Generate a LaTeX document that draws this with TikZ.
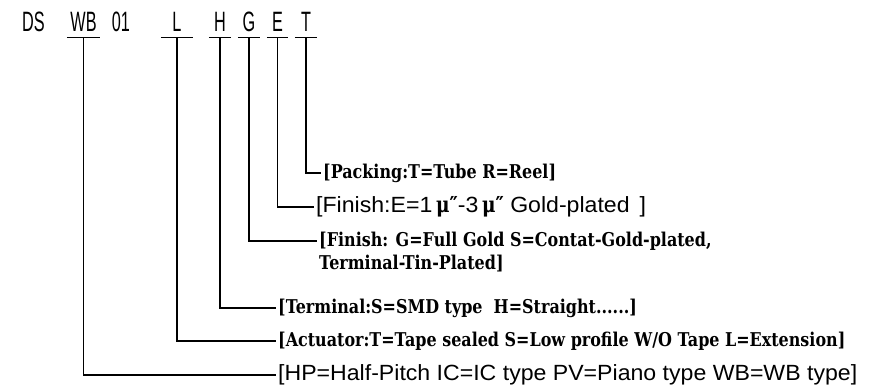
\documentclass[tikz,border=0pt]{standalone}
\usepackage{fontspec}
\usepackage{tikz}
\usetikzlibrary{positioning}
\newfontfamily\codefont[FakeStretch=0.58]{Liberation Sans}
\newfontfamily\thinfont[FakeStretch=1.05]{Liberation Sans}
\newfontfamily\heavyfont[FakeStretch=0.84]{DejaVu Serif}
\tikzset{
  codebox/.style={font=\codefont\fontsize{28}{32}\selectfont, inner sep=0pt, text depth=5pt, anchor=base},
  descthin/.style={font=\thinfont\fontsize{22}{26}\selectfont, anchor=west, inner xsep=2pt, inner ysep=0pt},
  descbold/.style={font=\heavyfont\bfseries\fontsize{19}{23}\selectfont, anchor=west, inner xsep=2pt, inner ysep=0pt},
  leader/.style={line width=1.1pt},
}
\begin{document}
\begin{tikzpicture}[x=1pt, y=-1pt]
\useasboundingbox (0,0) rectangle (877,390);
% part number
\node[codebox] (ds) at (33.5,32) {DS};
\node[codebox, minimum width=33pt] (wb) at (83.5,32) {WB};
\node[codebox] (num) at (121,32) {01};
\node[codebox, minimum width=32pt] (fl) at (177,32) {L};
\node[codebox, minimum width=22pt] (fh) at (220,32) {H};
\node[codebox, minimum width=22pt] (fg) at (249,32) {G};
\node[codebox, minimum width=21pt] (fe) at (277.5,32) {E};
\node[codebox, minimum width=22pt] (ft) at (306,32) {T};
% descriptions
\node[descbold] (pack) at (321,173) {[Packing:T=Tube R=Reel]};
\node[descthin] (fine) at (314,207) {[Finish:E=1\,{\heavyfont\bfseries μ″}-3\,{\heavyfont\bfseries μ″} Gold-plated \,]};
\node[descbold] (fing) at (317,241) {[Finish: G=Full Gold S=Contat-Gold-plated,};
\node[descbold] at (317,264) {Terminal-Tin-Plated]};
\node[descbold] (term) at (276,308) {[Terminal:S=SMD type\ \ H=Straight......]};
\node[descbold] (act) at (276,341) {[Actuator:T=Tape sealed S=Low profile W/O Tape L=Extension]};
\node[descthin] (hp) at (276,375) {[HP=Half-Pitch IC=IC type PV=Piano type WB=WB type]};
% leaders
\draw[leader] (ft.south west) -- (ft.south east) (ft.south) |- (pack.west);
\draw[leader] (fe.south west) -- (fe.south east) (fe.south) |- (fine.west);
\draw[leader] (fg.south west) -- (fg.south east) (fg.south) |- (fing.west);
\draw[leader] (fh.south west) -- (fh.south east) (fh.south) |- (term.west);
\draw[leader] (fl.south west) -- (fl.south east) (fl.south) |- (act.west);
\draw[leader] (wb.south west) -- (wb.south east) (wb.south) |- (hp.west);
\end{tikzpicture}
\end{document}
